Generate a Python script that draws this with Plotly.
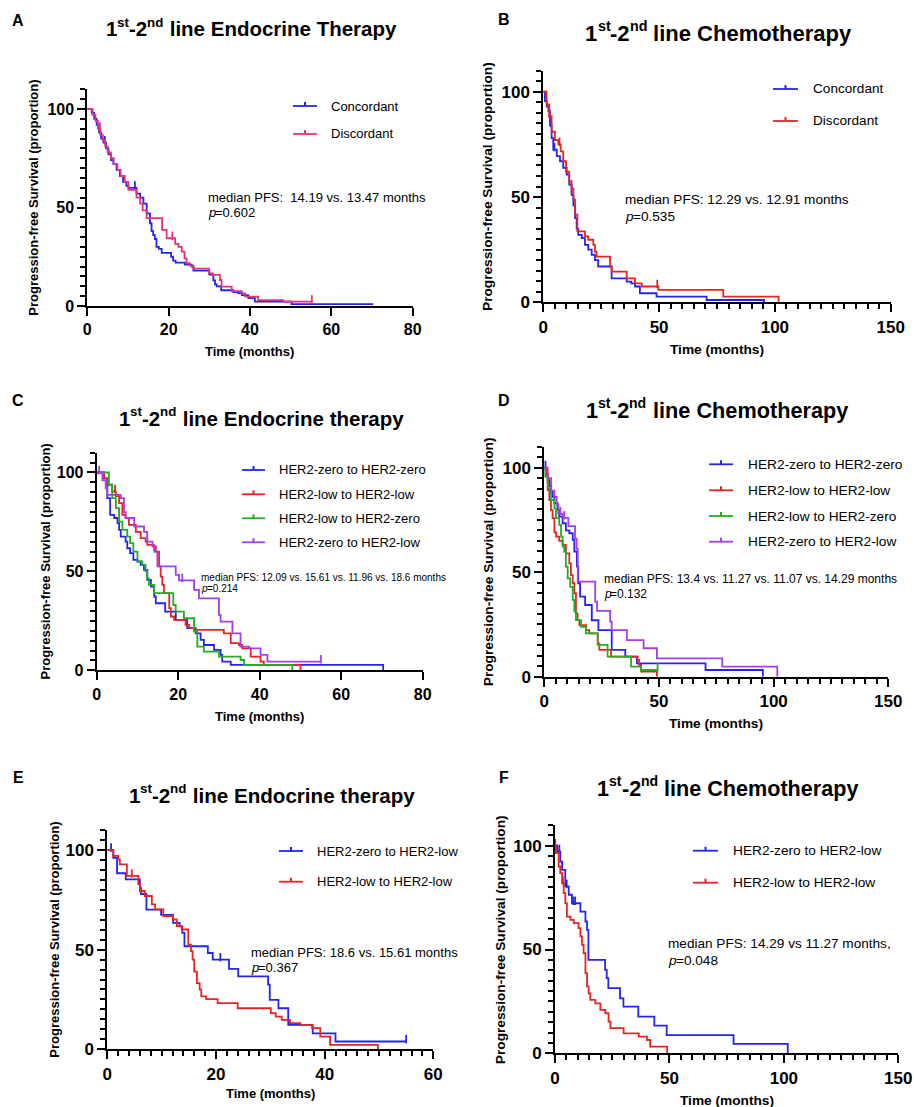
import numpy as np
import plotly.graph_objects as go

W, H = 914, 1107

# ---------------- DATA (months, % progression-free) ----------------
# Panel A: Endocrine, concordant vs discordant
A_conc_t = [0, 1.1, 1.7, 2.3, 2.9, 3.4, 4.0, 4.6, 5.2, 5.8, 6.4, 7.2, 8.0, 8.8, 9.6, 10.1, 12.1, 13.0, 13.8, 14.6, 15.4, 15.8, 16.2, 16.6, 17.0, 17.6, 18.3, 20.6, 21.1, 21.7, 24.0, 25.7, 26.1, 30.0, 31.0, 31.4, 31.8, 32.9, 35.9, 37.1, 38.0, 39.6, 41.2, 50.2]
A_conc_s = [100, 98, 95, 92, 88, 85, 83, 80, 77, 74, 72, 69, 66, 63, 61, 60, 57, 55, 52, 47, 42, 38, 36, 34, 30, 29, 27, 25, 23, 22, 21, 20, 18, 16, 13, 11, 10, 8, 7, 6.5, 5.5, 4, 2.2, 1]
A_conc_end = 70.3
A_conc_cens = [4.3, 11.7]
A_disc_t = [0, 1.3, 2.0, 2.6, 3.2, 3.8, 4.4, 5.0, 5.8, 6.5, 7.4, 8.2, 9.2, 10.1, 12.1, 13.0, 13.6, 14.6, 18.4, 19.5, 21.6, 22.4, 23.2, 23.9, 24.4, 25.2, 26.1, 29.9, 30.8, 32.6, 33.0, 35.5, 38.0, 38.8, 42.0, 48.2]
A_disc_s = [100, 97, 94, 90, 87, 84, 81, 78, 75, 72, 69, 66, 63, 59, 55, 52, 48.5, 44.6, 38.6, 34.4, 31.5, 30, 27.6, 24.2, 21.7, 20.5, 19, 16.6, 15.8, 13.2, 9.8, 7.6, 6.4, 4.8, 3, 2.2]
A_disc_end = 55.2
A_disc_cens = [3.1, 20.9, 55.2]

# Panel B: Chemotherapy, concordant vs discordant
B_conc_t = [0, 0.7, 1.5, 2.2, 2.9, 3.6, 4.3, 5.8, 7.2, 8.6, 10.1, 11.2, 12.2, 13.0, 13.7, 14.4, 15.1, 16.6, 18.0, 19.4, 20.9, 22.3, 23.7, 29.5, 36.0, 38.0, 39.6, 41.7, 48.9, 70.5, 95.3]
B_conc_s = [100, 95.6, 93, 90.8, 84, 78, 72.5, 69.4, 67, 63.8, 60.6, 55.9, 51, 46, 40, 35, 32, 30.5, 27.3, 25, 22.5, 20, 17, 11.4, 9.8, 9, 7.5, 4.3, 2.7, 1.1, 0]
B_conc_end = None
B_conc_cens = [3.2, 4.8]
B_disc_t = [0, 1.4, 2.6, 3.6, 5.0, 6.5, 7.5, 8.6, 9.8, 11.2, 12.2, 13.0, 13.7, 14.7, 18.0, 19.4, 21.6, 22.3, 23.0, 28.8, 29.5, 36.0, 39.6, 42.5, 49.7, 77.7, 101.6]
B_disc_s = [100, 94, 88.4, 81, 77, 75, 71.7, 67, 62, 57.5, 54, 48.7, 41.6, 33.7, 31.3, 29.7, 27.3, 24, 21.7, 17, 14.6, 11.4, 9, 7.5, 5.9, 2.7, 0]
B_disc_end = None
B_disc_cens = [2.6, 7.0, 49.2]

# Panel C: Endocrine, four HER2 transitions
C_zz_t = [0, 1.8, 2.6, 3.3, 4.3, 5.1, 5.5, 5.9, 7.1, 7.5, 8.2, 9.0, 10.0, 10.8, 11.6, 12.4, 13.3, 14.1, 14.5, 16.8, 19.4, 22.2, 24.3, 25.5, 26.3, 28.8, 30.4, 30.8, 32.9, 70.3]
C_zz_s = [100, 97, 87, 78.6, 77, 74.4, 71, 67.6, 65, 61.7, 59.2, 55.8, 55, 53.3, 50.8, 45.7, 42.3, 37.3, 33.9, 29.7, 25.5, 21.3, 18.7, 15.4, 12.8, 10.3, 7.8, 4.4, 2.7, 0]
C_zz_end = None
C_zz_cens = []
C_ll_t = [0, 1.8, 2.6, 3.8, 4.7, 5.5, 6.3, 7.1, 7.9, 9.6, 10.8, 12.0, 12.4, 13.7, 14.5, 15.3, 15.7, 16.1, 16.5, 17.8, 18.2, 19.0, 21.8, 22.7, 23.9, 31.2, 32.9, 34.9, 35.7, 37.8, 40.2, 41.0, 50.0]
C_ll_s = [100, 97, 93.8, 90.4, 88, 84.5, 78.6, 77, 73.5, 70, 66.8, 65, 63.4, 62.6, 60, 52.5, 47.4, 43.2, 39, 31.4, 27.2, 25.5, 23, 21.3, 20.4, 18.7, 13.7, 12.8, 11.1, 6.9, 4.4, 2.7, 0]
C_ll_end = None
C_ll_cens = [4.5]
C_lz_t = [0, 3.0, 3.8, 4.7, 5.5, 6.3, 7.5, 8.2, 9.0, 10.0, 11.2, 12.0, 12.4, 12.8, 14.1, 18.8, 19.4, 21.4, 23.9, 24.7, 26.3, 30.0, 35.3, 36.2, 48.0]
C_lz_s = [100, 93.8, 87, 82, 75.2, 71, 67.6, 64.3, 60, 55, 53.3, 50, 46.6, 43.2, 39, 33, 29.7, 26.3, 19.6, 12, 9.4, 6.9, 5.2, 2.7, 0]
C_lz_end = None
C_lz_cens = []
C_zl_t = [0, 1.4, 2.2, 2.6, 5.9, 6.7, 7.1, 9.2, 11.6, 12.4, 13.7, 14.1, 14.9, 19.4, 20.2, 23.9, 25.1, 30.0, 30.4, 33.3, 35.3, 37.4, 40.2, 41.9]
C_zl_s = [100, 96, 92, 88.7, 87, 80, 77, 72.7, 70, 65, 63.4, 60, 52.5, 48.2, 45.5, 40.7, 36.4, 28, 24.6, 18.7, 12, 11.1, 7.8, 4.4]
C_zl_end = 55.0
C_zl_cens = [0.6, 21.0, 55.0]

# Panel D: Chemotherapy, four HER2 transitions
D_zz_t = [0, 0.7, 1.5, 2.2, 2.9, 3.6, 4.4, 5.8, 6.5, 8.0, 9.4, 10.9, 12.4, 13.1, 14.2, 14.8, 15.6, 17.8, 20.7, 23.6, 29.4, 35.3, 40.4, 70.3, 95.3]
D_zz_s = [100, 97, 94, 91, 88.5, 86, 83, 79.7, 76.6, 73.4, 70, 68.6, 65.4, 59.8, 52.6, 44.7, 38.3, 34.3, 27, 22.3, 12.8, 9.6, 6.4, 3.2, 0]
D_zz_end = None
D_zz_cens = [0.5, 3.0]
D_ll_t = [0, 0.7, 1.5, 2.2, 2.9, 3.6, 4.4, 5.1, 6.5, 8.0, 9.4, 10.9, 11.6, 12.4, 13.1, 13.8, 14.5, 15.3, 18.2, 19.6, 23.3, 24.0, 29.1, 40.7, 41.4, 42.2, 49.1]
D_ll_s = [100, 95.7, 89.3, 84.5, 79.7, 75.8, 69, 67, 65, 63, 59, 54.2, 48.6, 44.7, 39.9, 30.3, 27.1, 24.7, 22.3, 20.7, 15.9, 12.8, 9.6, 8, 5.6, 2.4, 0]
D_ll_end = None
D_ll_cens = []
D_lz_t = [0, 0.3, 1.5, 2.9, 4.4, 5.1, 6.5, 7.3, 8.0, 8.7, 9.4, 10.2, 11.3, 12.4, 13.1, 13.8, 16.0, 18.2, 23.3, 27.6, 37.8, 42.2]
D_lz_s = [100, 95.7, 90, 84.5, 80.5, 75.8, 72.6, 67, 62.2, 59.8, 52.6, 47, 43, 36.7, 31.1, 27.1, 23.9, 20.7, 15.2, 9.6, 4.8, 3.2]
D_lz_end = 49.4
D_lz_cens = [49.4]
D_zl_t = [0, 1.5, 3.0, 4.4, 5.4, 6.1, 8.0, 10.5, 13.4, 14.1, 14.6, 22.2, 23.0, 28.7, 29.4, 36.0, 43.3, 49.1, 77.6, 101.6]
D_zl_s = [100, 95, 89, 86, 82, 78, 76, 72, 66, 61, 45.5, 35.9, 31.5, 26.3, 22.3, 17.5, 13.6, 8.8, 4.8, 0]
D_zl_end = None
D_zl_cens = [7.0, 8.7]

# Panel E: Endocrine, HER2-zero->low vs HER2-low->low
E_zl_t = [0, 1.1, 1.8, 3.4, 6.0, 6.2, 7.2, 9.9, 12.1, 13.3, 13.8, 14.2, 18.5, 19.4, 22.4, 24.1, 29.6, 29.9, 31.5, 33.3, 37.8, 42.0]
E_zl_s = [100, 96, 88.3, 85.2, 81, 77.9, 70.1, 67.4, 63.4, 61.7, 58.4, 51.7, 48.3, 45, 40.3, 36.6, 32.4, 24.8, 20.6, 12.3, 8, 3.9]
E_zl_end = 55.0
E_zl_cens = [0.7, 20.8, 55.0]
E_ll_t = [0, 1.1, 2.0, 2.3, 3.6, 5.7, 6.0, 6.9, 8.2, 8.8, 10.3, 12.1, 12.8, 13.7, 14.9, 15.4, 15.7, 16.0, 16.5, 17.0, 17.3, 18.2, 20.3, 24.0, 30.1, 31.0, 32.1, 33.6, 35.5, 37.7, 39.2, 41.0, 49.8]
E_ll_s = [100, 97, 95.3, 92.8, 87, 82.7, 79.4, 76.9, 72.7, 70.2, 66.8, 65.1, 61.8, 60.1, 52.5, 49.2, 45, 39, 33.2, 29.9, 26.5, 25.2, 23.2, 20.6, 18.1, 16.4, 14.8, 13.1, 12.3, 10.6, 6.4, 2.2, 0]
E_ll_end = None
E_ll_cens = [4.5]

# Panel F: Chemotherapy, HER2-zero->low vs HER2-low->low
F_zl_t = [0, 0.9, 2.3, 3.1, 4.5, 6.0, 7.4, 11.1, 13.3, 14.0, 14.6, 21.9, 22.6, 23.3, 28.4, 29.9, 36.4, 43.4, 48.8, 78.0, 101.7]
F_zl_s = [100, 97.3, 92.4, 88.4, 80.4, 76.4, 72.3, 68.3, 63.5, 59.5, 45, 40.2, 36.2, 31.4, 26.5, 22.5, 17.7, 13.3, 8.8, 4.5, 0]
F_zl_end = None
F_zl_cens = [1.0, 1.9, 5.1, 8.0, 8.8]
F_ll_t = [0, 0.4, 1.6, 2.3, 3.1, 3.8, 4.5, 5.2, 6.7, 8.2, 10.3, 11.1, 11.8, 12.5, 13.3, 14.0, 14.7, 15.4, 17.6, 19.8, 22.0, 23.4, 24.2, 30.0, 36.6, 40.2, 41.6, 49.0]
F_ll_s = [100, 96.5, 90, 86.8, 82, 77.2, 72.3, 65.9, 64.3, 62.7, 60.3, 56.3, 52.3, 48.2, 38.6, 32.2, 28.9, 25.7, 24.1, 20.9, 19.3, 15.3, 12.1, 9.6, 8, 6.4, 3.2, 0]
F_ll_end = None
F_ll_cens = [0.1, 3.5]

# Text
title_rest = {
    "A": " line Endocrine Therapy",
    "B": " line Chemotherapy",
    "C": " line Endocrine therapy",
    "D": " line Chemotherapy",
    "E": " line Endocrine therapy",
    "F": " line Chemotherapy",
}
title_head = [("1", False), ("st", True), ("-2", False), ("nd", True)]
median_text = {
    "A": "median PFS:  14.19 vs. 13.47 months",
    "B": "median PFS: 12.29 vs. 12.91 months",
    "C": "median PFS: 12.09 vs. 15.61 vs. 11.96 vs. 18.6 months",
    "D": "median PFS: 13.4 vs. 11.27 vs. 11.07 vs. 14.29 months",
    "E": "median PFS: 18.6 vs. 15.61 months",
    "F": "median PFS: 14.29 vs 11.27 months,",
}
p_values = {"A": "=0.602", "B": "=0.535", "C": "=0.214", "D": "=0.132", "E": "=0.367", "F": "=0.048"}
x_title = "Time (months)"
y_title = "Progression-free Survival (proportion)"

BLUE = "#2424ee"
PINK = "#e2337c"
RED = "#e62424"
GREEN = "#24ad24"
PURPLE = "#a53ee4"

curves = {
    "A": [("Concordant", BLUE, A_conc_t, A_conc_s, A_conc_end, A_conc_cens),
          ("Discordant", PINK, A_disc_t, A_disc_s, A_disc_end, A_disc_cens)],
    "B": [("Concordant", BLUE, B_conc_t, B_conc_s, B_conc_end, B_conc_cens),
          ("Discordant", RED, B_disc_t, B_disc_s, B_disc_end, B_disc_cens)],
    "C": [("HER2-zero to HER2-zero", BLUE, C_zz_t, C_zz_s, C_zz_end, C_zz_cens),
          ("HER2-low to HER2-low", RED, C_ll_t, C_ll_s, C_ll_end, C_ll_cens),
          ("HER2-low to HER2-zero", GREEN, C_lz_t, C_lz_s, C_lz_end, C_lz_cens),
          ("HER2-zero to HER2-low", PURPLE, C_zl_t, C_zl_s, C_zl_end, C_zl_cens)],
    "D": [("HER2-zero to HER2-zero", BLUE, D_zz_t, D_zz_s, D_zz_end, D_zz_cens),
          ("HER2-low to HER2-low", RED, D_ll_t, D_ll_s, D_ll_end, D_ll_cens),
          ("HER2-low to HER2-zero", GREEN, D_lz_t, D_lz_s, D_lz_end, D_lz_cens),
          ("HER2-zero to HER2-low", PURPLE, D_zl_t, D_zl_s, D_zl_end, D_zl_cens)],
    "E": [("HER2-zero to HER2-low", BLUE, E_zl_t, E_zl_s, E_zl_end, E_zl_cens),
          ("HER2-low to HER2-low", RED, E_ll_t, E_ll_s, E_ll_end, E_ll_cens)],
    "F": [("HER2-zero to HER2-low", BLUE, F_zl_t, F_zl_s, F_zl_end, F_zl_cens),
          ("HER2-low to HER2-low", RED, F_ll_t, F_ll_s, F_ll_end, F_ll_cens)],
}

# ---------------- LAYOUT (pixel geometry) ----------------
geom = {
    "A": dict(box=(87.3, 412.7, 306, 89.3), xmax=80, dtick=20, minor=None,
              title=(250, 29), letter=(18, 21), ytl=34, xtl=351,
              leg=(293, 317, 330, [106, 134]), med=(207, 197, 212),
              fs=dict(tick=16, ax=13, title=20.5, leg=13, med=13)),
    "B": dict(box=(543.3, 890.7, 302.3, 70.7), xmax=150, dtick=50, minor=5,
              title=(717.5, 33), letter=(504, 20), ytl=487.5, xtl=349.5,
              leg=(773, 798, 812, [89, 121]), med=(624, 199.5, 216.7),
              fs=dict(tick=17, ax=13.7, title=22, leg=13.6, med=13.6)),
    "C": dict(box=(96.7, 422.7, 670.3, 452.7), xmax=80, dtick=20, minor=None,
              title=(260, 418), letter=(18, 400), ytl=45, xtl=716,
              leg=(242, 265, 278, [470, 494.3, 518.3, 542.3]), med=(200, 577.3, 588.8),
              fs=dict(tick=16, ax=13, title=20.5, leg=13, med=10)),
    "D": dict(box=(544.3, 888.3, 676.7, 446.7), xmax=150, dtick=50, minor=5,
              title=(715.8, 410), letter=(504, 400), ytl=488.5, xtl=723,
              leg=(709, 733, 747, [464.3, 490.3, 516, 541.7]), med=(602.7, 579, 594),
              fs=dict(tick=17, ax=13.7, title=21.7, leg=13.7, med=12)),
    "E": dict(box=(107.3, 433.3, 1049.3, 830), xmax=60, dtick=20, minor=2,
              title=(270.5, 795), letter=(18, 777), ytl=55, xtl=1093.5,
              leg=(279, 303, 316, [851, 881.7]), med=(250, 952.3, 967.7),
              fs=dict(tick=17, ax=13, title=20.6, leg=13, med=13)),
    "F": dict(box=(555, 898.3, 1053.3, 825), xmax=150, dtick=50, minor=5,
              title=(727, 788), letter=(503.5, 777), ytl=500, xtl=1100,
              leg=(693, 718, 731.7, [850.7, 882.7]), med=(667, 943.3, 960),
              fs=dict(tick=17, ax=13.7, title=21.6, leg=13.7, med=13.6)),
}

FONT = "Liberation Sans, Arial, Helvetica, sans-serif"
# Arial/Liberation Sans Bold advance widths (1/1000 em) for title characters
BOLD_W = {" ": 278, "l": 278, "i": 278, "n": 611, "e": 556, "E": 667, "d": 611, "o": 611,
          "c": 556, "r": 389, "T": 611, "h": 611, "a": 556, "p": 611, "y": 556, "C": 722,
          "m": 889, "t": 333, "s": 556, "1": 556, "2": 556, "-": 333}
SUP_SCALE = 0.65


def text_w(s, size):
    return sum(BOLD_W.get(ch, 556) for ch in s) / 1000.0 * size


def fx(x):
    return x / W


def fy(y):
    return 1 - y / H


def surv_at(t, s, c):
    idx = int(np.searchsorted(np.asarray(t), c, side="right")) - 1
    return s[max(idx, 0)]


def note(text, x, y, size, xanchor="center", bold=False, angle=0, italic=False):
    return dict(text=text, x=fx(x), y=fy(y), xref="paper", yref="paper",
                xanchor=xanchor, yanchor="middle", showarrow=False, textangle=angle,
                borderpad=0,
                font=dict(family=FONT, size=size, color="black",
                          weight="bold" if bold else "normal",
                          style="italic" if italic else "normal"))


fig = go.Figure()
annotations = []
shapes = []
layout = {}

for i, key in enumerate(["A", "B", "C", "D", "E", "F"], start=1):
    g = geom[key]
    x0, x1, yb, yt = g["box"]
    fs = g["fs"]
    xa, ya = f"x{i}", f"y{i}"
    xname = "xaxis" if i == 1 else f"xaxis{i}"
    yname = "yaxis" if i == 1 else f"yaxis{i}"

    for name, color, t, s, end, cens in curves[key]:
        xs = list(t)
        ys = list(s)
        if end is not None and end > xs[-1]:
            xs.append(end)
            ys.append(ys[-1])
        fig.add_trace(go.Scatter(x=xs, y=ys, mode="lines", line=dict(color=color, width=1.8, shape="hv"),
                                 xaxis=xa, yaxis=ya, name=name, showlegend=False, hoverinfo="skip"))
        if cens:
            cy = [surv_at(t, s, c) + 1.2 for c in cens]
            fig.add_trace(go.Scatter(x=cens, y=cy, mode="markers", cliponaxis=False,
                                     marker=dict(symbol="line-ns", size=6,
                                                 line=dict(width=1.8, color=color)),
                                     xaxis=xa, yaxis=ya, showlegend=False, hoverinfo="skip"))

    xaxis = dict(domain=[fx(x0), fx(x1)], range=[0, g["xmax"]], anchor=ya, automargin=False,
                 showline=True, linewidth=2, linecolor="black", mirror=False,
                 ticks="outside", ticklen=8, tickwidth=2, tickcolor="black",
                 tick0=0, dtick=g["dtick"], showgrid=False, zeroline=False,
                 tickfont=dict(family=FONT, size=fs["tick"], color="black", weight="bold"))
    if g["minor"]:
        xaxis["minor"] = dict(dtick=g["minor"], tick0=0, ticks="outside", ticklen=5,
                              tickwidth=1.6, tickcolor="black", showgrid=False)
    yaxis = dict(domain=[fy(yb), fy(yt)], range=[0, 110], anchor=xa, automargin=False,
                 showline=True, linewidth=2, linecolor="black", mirror=False,
                 ticks="outside", ticklen=8, tickwidth=2, tickcolor="black",
                 tickvals=[0, 50, 100], showgrid=False, zeroline=False,
                 tickfont=dict(family=FONT, size=fs["tick"], color="black", weight="bold"),
                 minor=dict(dtick=5, tick0=0, ticks="outside", ticklen=5, tickwidth=1.6,
                            tickcolor="black", showgrid=False))
    layout[xname] = xaxis
    layout[yname] = yaxis

    lx, ly = g["letter"]
    annotations.append(note(key, lx, ly, 16, bold=True))

    # title built from pieces: "1" "st"(sup) "-2" "nd"(sup) " line ..."
    tx, ty = g["title"]
    S = fs["title"]
    pieces = title_head + [(title_rest[key], False)]
    widths = [text_w(p, S * SUP_SCALE) if sup else text_w(p, S) for p, sup in pieces]
    cur = tx - sum(widths) / 2.0
    for (p, sup), wdt in zip(pieces, widths):
        if sup:
            annotations.append(note(p, cur, ty - 0.32 * S, S * SUP_SCALE, xanchor="left", bold=True))
        else:
            annotations.append(note(p, cur, ty, S, xanchor="left", bold=True))
        cur += wdt

    annotations.append(note(x_title, (x0 + x1) / 2, g["xtl"], fs["ax"], bold=True))
    annotations.append(note(y_title, g["ytl"], (yb + yt) / 2, fs["ax"], bold=True, angle=-90))

    lx0, lx1, ltx, lys = g["leg"]
    for (name, color, *_), lyy in zip(curves[key], lys):
        shapes.append(dict(type="line", xref="paper", yref="paper", x0=fx(lx0), x1=fx(lx1),
                           y0=fy(lyy), y1=fy(lyy), line=dict(color=color, width=1.8)))
        mid = (lx0 + lx1) / 2
        shapes.append(dict(type="line", xref="paper", yref="paper", x0=fx(mid), x1=fx(mid),
                           y0=fy(lyy), y1=fy(lyy - 4), line=dict(color=color, width=2)))
        annotations.append(note(name, ltx, lyy, fs["leg"], xanchor="left"))

    mx, my1, my2 = g["med"]
    annotations.append(note(median_text[key], mx, my1, fs["med"], xanchor="left"))
    annotations.append(note("p", mx, my2, fs["med"], xanchor="left", italic=True))
    annotations.append(note(p_values[key], mx + 0.556 * fs["med"], my2, fs["med"], xanchor="left"))

fig.update_layout(width=W, height=H, margin=dict(l=0, r=0, t=0, b=0, autoexpand=False),
                  paper_bgcolor="white", plot_bgcolor="white", showlegend=False,
                  annotations=annotations, shapes=shapes, **layout)

fig.write_html("out.html", config={"displayModeBar": False},
               post_script="document.body.style.margin='0px';document.body.style.padding='0px';")
